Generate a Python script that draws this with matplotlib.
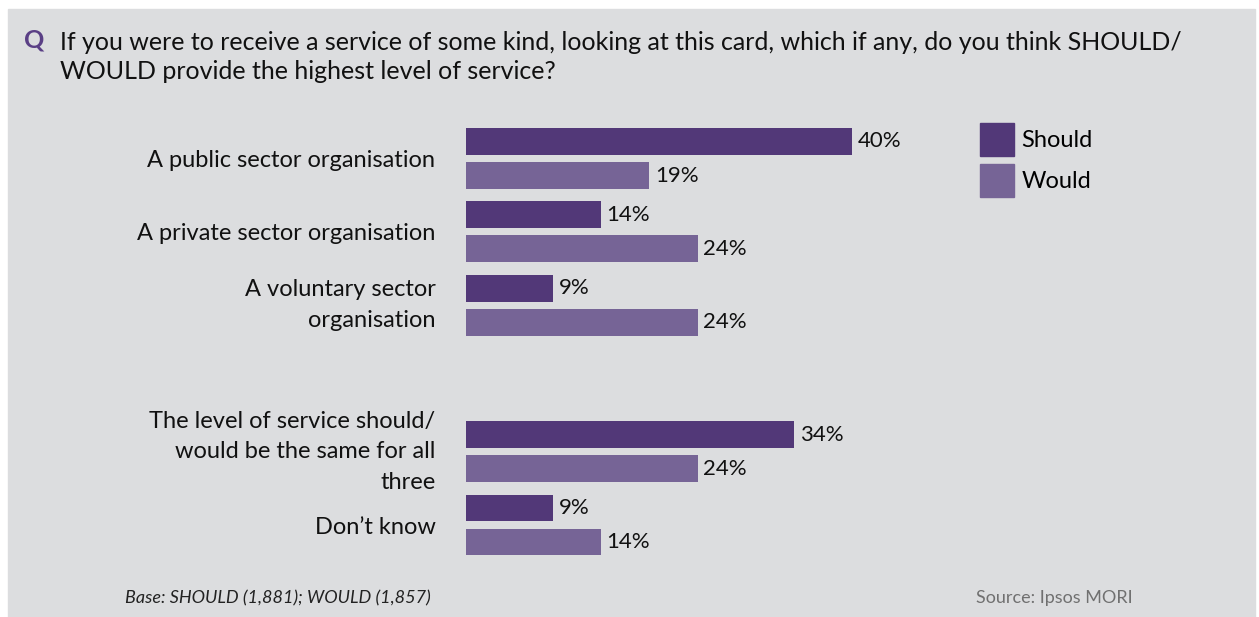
import numpy as np
import matplotlib.pyplot as plt
from matplotlib.patches import Rectangle, Patch

FONT = ["Liberation Sans Narrow", "Lato", "DejaVu Sans"]
plt.rcParams["font.family"] = FONT

categories = [
    "A public sector organisation",
    "A private sector organisation",
    "A voluntary sector\norganisation",
    "The level of service should/\nwould be the same for all\nthree",
    "Don\u2019t know",
]
positions = [0, 1, 2, 4, 5]
should = [40, 14, 9, 34, 9]
would = [19, 24, 24, 24, 14]
series_names = ["Should", "Would"]

C_SHOULD = "#523878"
C_WOULD = "#766496"
BG = "#dcdddf"

W, H = 1259, 617
fig = plt.figure(figsize=(W / 100, H / 100), dpi=100)
fig.patch.set_facecolor("white")
fig.patches.append(Rectangle((8 / W, 0), (1255 - 8) / W, 1 - 9 / H,
                             transform=fig.transFigure, color=BG, zorder=-5))

# axes placed so that 0% sits at x=466px and groups are ~73px apart
unit = 73.3
top_px = 158.5 - 0.6 * unit
ax = fig.add_axes([466 / W, 1 - (top_px + 6.2 * unit) / H, 482.5 / W, 6.2 * unit / H])
ax.set_facecolor("none")
ax.set_xlim(0, 50)
ax.set_ylim(5.6, -0.6)

pos = np.array(positions, dtype=float)
bh = 0.368
off = 0.232
b1 = ax.barh(pos - off, should, height=bh, color=C_SHOULD)
b2 = ax.barh(pos + off, would, height=bh, color=C_WOULD)
for b in (b1, b2):
    ax.bar_label(b, labels=[f"{v}%" for v in b.datavalues], padding=4,
                 fontsize=16, color="#111111")

ax.set_yticks(pos)
ax.set_yticklabels(categories, fontsize=17, color="#111111")
for t in ax.get_yticklabels():
    t.set_linespacing(1.55)
    if "\n" in t.get_text():
        t.set_va("center")
ax.tick_params(axis="y", length=0, pad=22)
ax.set_xticks([])
for s in ax.spines.values():
    s.set_visible(False)

handles = [Patch(color=C_SHOULD), Patch(color=C_WOULD)]
fig.legend(handles, series_names, loc="upper left",
           bbox_to_anchor=(980 / W, 1 - 123 / H), frameon=False,
           fontsize=17, handlelength=1.45, handleheight=1.76,
           handletextpad=0.3, labelspacing=0.35, borderpad=0, borderaxespad=0)

# question
fig.text(24 / W, 1 - 40 / H, "Q", fontsize=18, fontweight="bold",
         color="#5a3f85", va="center")
fig.text(60 / W, 1 - 57 / H,
         "If you were to receive a service of some kind, looking at this card, which if any, do you think SHOULD/\n"
         "WOULD provide the highest level of service?",
         fontsize=18, color="#111111", va="center", linespacing=1.35)

fig.text(125 / W, 1 - 598 / H, "Base: SHOULD (1,881); WOULD (1,857)",
         fontsize=13, style="italic", color="#222222", va="center")
fig.text(1133 / W, 1 - 598 / H, "Source: Ipsos MORI", fontsize=13,
         color="#707070", ha="right", va="center")

fig.savefig("out.png", dpi=100, facecolor=fig.get_facecolor())
